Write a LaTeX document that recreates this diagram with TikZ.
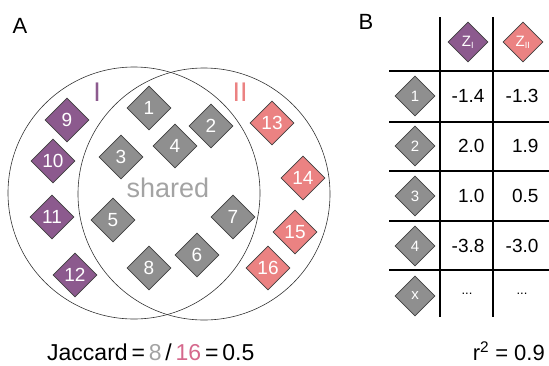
\documentclass[tikz,border=0pt]{standalone}
\usepackage{fontspec}
\setmainfont{Liberation Sans}
\usetikzlibrary{shapes.geometric}
\definecolor{setone}{HTML}{8C5A8E}
\definecolor{settwo}{HTML}{EB8282}
\definecolor{sharedgray}{HTML}{8F8F8F}
\definecolor{labelgray}{HTML}{A3A3A3}
\definecolor{jaccpink}{HTML}{D5688C}
\newcommand{\fsz}[1]{\fontsize{#1}{#1}\selectfont}
\begin{document}
\begin{tikzpicture}[x=1pt,y=-1pt,
  gem/.style={diamond,aspect=1,inner sep=0pt,draw=black!75,line width=0.6pt,
    minimum width=44pt,minimum height=44pt,text=white,font=\fsz{19}},
  small gem/.style={gem,minimum width=40pt,minimum height=40pt,font=\fsz{15}},
  grey gem/.style={gem,fill=sharedgray},
  one gem/.style={gem,fill=setone},
  two gem/.style={gem,fill=settwo},
  setring/.style={draw=black!80,line width=0.6pt},
  rule/.style={draw=black,line width=1.1pt},
  val/.style={anchor=east,font=\fsz{19}},
  panel/.style={font=\fsz{22}}]
\useasboundingbox (0,0) rectangle (549,365);

% ---------- panel A: two overlapping sets ----------
\node[panel] (lblA) at (20,26) {A};
\draw[setring] (134,193) circle[radius=126];
\draw[setring] (204,194) circle[radius=126];
\node[font=\fsz{27},text=setone] (nameI) at (97,92) {I};
\node[font=\fsz{27},text=settwo] (nameII) at (240,92) {II};
\node[font=\fsz{27},text=labelgray] (shared) at (168,188) {shared};

% shared elements
\node[grey gem] (e1) at (149,108) {1};
\node[grey gem] (e2) at (211,126) {2};
\node[grey gem] (e3) at (121,157) {3};
\node[grey gem] (e4) at (175,146) {4};
\node[grey gem] (e5) at (113,220) {5};
\node[grey gem] (e6) at (197,255) {6};
\node[grey gem] (e7) at (233,217) {7};
\node[grey gem] (e8) at (149,268) {8};
% set I only
\node[one gem] (e9) at (67,120) {9};
\node[one gem] (e10) at (53,161) {10};
\node[one gem] (e11) at (52,217) {11};
\node[one gem] (e12) at (75,275) {12};
% set II only
\node[two gem] (e13) at (272,123) {13};
\node[two gem] (e14) at (303,178) {14};
\node[two gem] (e15) at (295,232) {15};
\node[two gem] (e16) at (268,268) {16};

\node[anchor=west,inner sep=0pt,font=\fsz{23}] (jac) at (47,352)
  {Jaccard\,=\,\textcolor{labelgray}{8}\,/\,\textcolor{jaccpink}{16}\,=\,0.5};

% ---------- panel B: table of scores ----------
\node[panel] (lblB) at (366,22) {B};
\coordinate (v1t) at (440,17); \coordinate (v1b) at (440,317);
\coordinate (v2t) at (493,17); \coordinate (v2b) at (493,317);
\draw[rule] (v1t) -- (v1b);
\draw[rule] (v2t) -- (v2b);
\foreach \y in {71,122,171,221,270}{
  \draw[rule] (389,\y) -- (549,\y);
}
\node[small gem,fill=setone] (zI) at (468,42) {Z\textsubscript{\fsz{9}I}};
\node[small gem,fill=settwo] (zII) at (523,42) {Z\textsubscript{\fsz{9}II}};

\node[small gem,fill=sharedgray] (r1) at (415,96) {1};
\node[small gem,fill=sharedgray] (r2) at (415,146) {2};
\node[small gem,fill=sharedgray] (r3) at (415,196) {3};
\node[small gem,fill=sharedgray] (r4) at (415,246) {4};
\node[small gem,fill=sharedgray] (rx) at (415,296) {x};

\node[val] (a1) at (488,96) {-1.4};  \node[val] (b1) at (542,96) {-1.3};
\node[val] (a2) at (488,146) {2.0};  \node[val] (b2) at (542,146) {1.9};
\node[val] (a3) at (488,196) {1.0};  \node[val] (b3) at (542,196) {0.5};
\node[val] (a4) at (488,246) {-3.8}; \node[val] (b4) at (542,246) {-3.0};
\node[font=\fsz{13}] (a5) at (467,294) {...};
\node[font=\fsz{13}] (b5) at (522,294) {...};

\node[anchor=east,inner sep=0pt,font=\fsz{22}] (rsq) at (545,351) {r\textsuperscript{2} = 0.9};
\end{tikzpicture}
\end{document}
